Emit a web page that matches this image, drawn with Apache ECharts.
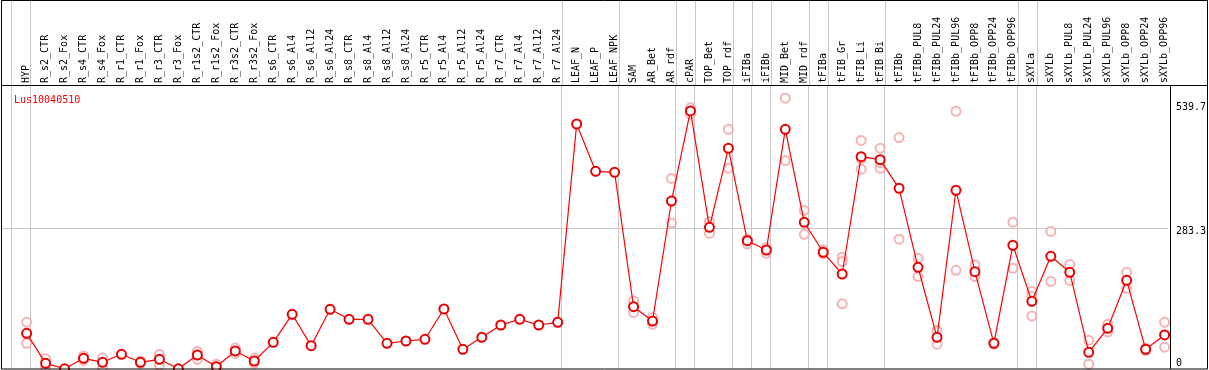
<!DOCTYPE html>
<html><head><meta charset="utf-8">
<script src="https://cdn.jsdelivr.net/npm/echarts@6/dist/echarts.min.js"></script>
<style>html,body{margin:0;padding:0;background:#fff}#c{width:1209px;height:370px}</style>
</head><body><div id="c"></div>
<script>
const chartTitle = 'Lus10040510';
const categories = ['HYP','R_s2_CTR','R_s2_Fox','R_s4_CTR','R_s4_Fox','R_r1_CTR','R_r1_Fox','R_r3_CTR','R_r3_Fox',
 'R_r1s2_CTR','R_r1s2_Fox','R_r3s2_CTR','R_r3s2_Fox','R_s6_CTR','R_s6_Al4','R_s6_Al12','R_s6_Al24',
 'R_s8_CTR','R_s8_Al4','R_s8_Al12','R_s8_Al24','R_r5_CTR','R_r5_Al4','R_r5_Al12','R_r5_Al24',
 'R_r7_CTR','R_r7_Al4','R_r7_Al12','R_r7_Al24','LEAF_N','LEAF_P','LEAF_NPK','SAM','AR_Bet','AR_rdf',
 'cPAR','TOP_Bet','TOP_rdf','iFIBa','iFIBb','MID_Bet','MID_rdf','tFIBa','tFIB_Gr','tFIB_Li','tFIB_Bi',
 'tFIBb','tFIBb_PUL8','tFIBb_PUL24','tFIBb_PUL96','tFIBb_OPP8','tFIBb_OPP24','tFIBb_OPP96',
 'sXYLa','sXYLb','sXYLb_PUL8','sXYLb_PUL24','sXYLb_PUL96','sXYLb_OPP8','sXYLb_OPP24','sXYLb_OPP96'];
const meanValues = [67.4,5.7,-5.5,16.0,7.8,24.3,7.8,14.0,-5.5,22.8,-1.2,31.1,10.5,48.9,106.5,42.0,116.8,
 96.2,96.2,46.9,51.6,55.1,117.4,34.5,59.2,84.5,96.2,84.5,90.0,497.8,400.5,398.5,122.1,92.7,339.5,
 524.6,285.4,447.9,257.9,238.7,486.9,295.7,234.0,189.4,430.6,424.4,365.6,203.2,59.2,361.5,194.1,
 46.9,248.4,133.2,225.8,192.9,28.4,77.7,176.4,34.5,64.0];
const rep1 = [90,15,null,21,17,null,10,24,null,30,4,37,16,null,null,null,null,null,null,null,null,null,null,null,null,
 null,null,null,null,null,null,null,134,100,386,531,297,487,261,244,551,320,239,224,464,448,470,222,73,524,208,48,296,
 154,277,209,53,86,193,37,90];
const rep2 = [47,-2,null,12,-3,null,6,2,null,14,null,26,6,null,null,null,null,null,null,null,null,null,null,null,null,
 null,null,null,null,null,null,null,110,86,294,518,273,407,251,232,423,271,231,215,426,407,261,184,45,197,184,45,201,
 103,174,176,4,70,160,32,39];
const rep3 = [66,null,null,null,null,null,null,null,null,null,null,null,null,null,null,null,null,null,null,null,null,
 null,null,null,null,null,null,null,null,null,null,null,null,null,null,null,null,null,null,null,null,null,null,128,405,
 418,null,null,null,null,null,null,null,143,null,null,null,null,null,null,null];
const groupEnds = [-1,0,28,31,34,35,37,38,39,41,42,45,52,53,60];
const yTickValues = [0,283.3,539.7];
const yTickLabels = ['0','283.3','539.7'];
const gridLineValues = [283.3];

const MONO = '"DejaVu Sans Mono", "Liberation Mono", monospace';
const SEP_OFFSET = 0.21;
const X_MIN = -1.3526, X_MAX = 60.174;
const Y_MIN = -5.96, Y_MAX = 578;

const meanData = meanValues.map((v,i)=>[i,v]);
const repData = [];
[rep1,rep2,rep3].forEach(r=>r.forEach((v,i)=>{ if(v!==null) repData.push([i,v]); }));
const sepLines = groupEnds.map(b=>({xAxis:b+SEP_OFFSET}));

const chart = echarts.init(document.getElementById('c'), null, {renderer:'canvas'});
chart.setOption({
  animation:false,
  backgroundColor:'#fff',
  title:{text:chartTitle,left:9,top:90,textStyle:{color:'#ff0000',fontSize:10,fontWeight:'normal',fontFamily:MONO}},
  grid:[
    {left:1,top:85,width:1169,height:284},
    {left:1,top:0,width:1169,height:85}
  ],
  xAxis:[
    {type:'value',gridIndex:0,min:X_MIN,max:X_MAX,position:'top',
     axisLine:{show:false},axisTick:{show:false},splitLine:{show:false},
     axisLabel:{customValues:categories.map((c,i)=>i),rotate:90,margin:2,color:'#000',fontSize:10,fontFamily:MONO,
       formatter:v=>categories[Math.round(v)]||''}},
    {type:'value',gridIndex:1,min:X_MIN,max:X_MAX,show:false}
  ],
  yAxis:[
    {type:'value',gridIndex:0,min:Y_MIN,max:Y_MAX,position:'right',
     axisLine:{show:false},axisTick:{show:false},splitLine:{show:false},
     axisLabel:{customValues:yTickValues,margin:8,color:'#000',fontSize:10,fontFamily:MONO,
       formatter:v=>{const k=yTickValues.indexOf(v);const t=k>=0?yTickLabels[k]:'';return v===0?'{lo|'+t+'}':'{hi|'+t+'}';},
       rich:{lo:{padding:[0,0,6,0],fontSize:10,fontFamily:MONO,color:'#000'},hi:{padding:[7,0,0,0],fontSize:10,fontFamily:MONO,color:'#000'}}}},
    {type:'value',gridIndex:1,min:0,max:1,show:false}
  ],
  series:[
    {type:'line',xAxisIndex:1,yAxisIndex:1,data:[[0,-10]],symbol:'none',lineStyle:{opacity:0},silent:true,z:1,
     markLine:{z:1,silent:true,symbol:'none',label:{show:false},lineStyle:{color:'#c8c8c8',width:1,type:'solid'},data:sepLines}},
    {type:'line',data:[[0,-100]],symbol:'none',lineStyle:{opacity:0},silent:true,z:1,
     markLine:{z:1,silent:true,symbol:'none',label:{show:false},lineStyle:{color:'#c8c8c8',width:1,type:'solid'},
       data:sepLines.concat(gridLineValues.map(v=>({yAxis:v})))}},
    {type:'scatter',data:repData,symbol:'emptyCircle',symbolSize:9,
     itemStyle:{color:'#f2a0a0',borderColor:'#f2a0a0',borderWidth:1.2},z:3},
    {type:'line',data:meanData,symbol:'emptyCircle',symbolSize:9,
     lineStyle:{color:'#ff0000',width:1.2},itemStyle:{color:'#e80000',borderColor:'#e80000',borderWidth:1.5},z:4}
  ],
  graphic:[
    {type:'rect',shape:{x:1.5,y:0.5,width:1206,height:368.5},style:{fill:null,stroke:'#000',lineWidth:1},z:100,silent:true},
    {type:'line',shape:{x1:1,y1:85.5,x2:1208,y2:85.5},style:{stroke:'#000',lineWidth:1},z:100,silent:true},
    {type:'line',shape:{x1:1170.5,y1:85,x2:1170.5,y2:369},style:{stroke:'#000',lineWidth:1},z:100,silent:true}
  ]
});
</script></body></html>
